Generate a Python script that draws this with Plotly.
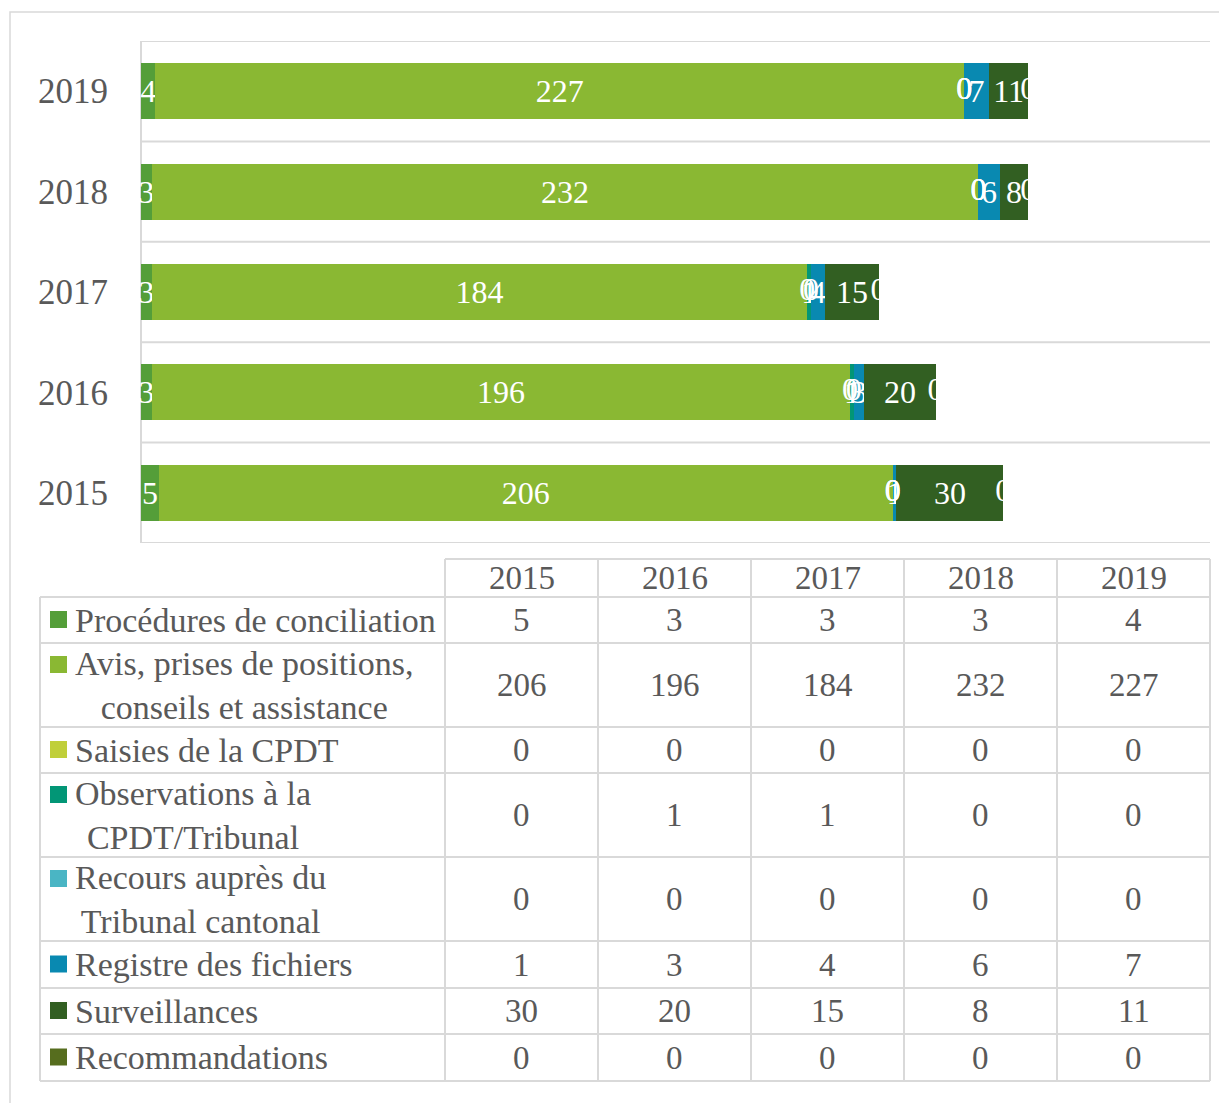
import plotly.graph_objects as go

# ---------------- data ----------------
years = ["2015", "2016", "2017", "2018", "2019"]
series_names = [
    "Procédures de conciliation",
    "Avis, prises de positions, conseils et assistance",
    "Saisies de la CPDT",
    "Observations à la CPDT/Tribunal",
    "Recours auprès du Tribunal cantonal",
    "Registre des fichiers",
    "Surveillances",
    "Recommandations",
]
table_labels = [
    "Procédures de conciliation",
    "Avis, prises de positions,<br>conseils et assistance",
    "Saisies de la CPDT",
    "Observations à la<br>CPDT/Tribunal",
    "Recours auprès du<br>Tribunal cantonal",
    "Registre des fichiers",
    "Surveillances",
    "Recommandations",
]
procedures = [5, 3, 3, 3, 4]
avis = [206, 196, 184, 232, 227]
saisies = [0, 0, 0, 0, 0]
observations = [0, 1, 1, 0, 0]
recours = [0, 0, 0, 0, 0]
registre = [1, 3, 4, 6, 7]
surveillances = [30, 20, 15, 8, 11]
recommandations = [0, 0, 0, 0, 0]
series_values = [procedures, avis, saisies, observations, recours,
                 registre, surveillances, recommandations]
colors = ["#549E39", "#8AB833", "#C0CF3A", "#029676",
          "#4AB5C4", "#0989B1", "#325F22", "#566D1E"]

# ---------------- layout geometry (reference pixels) ----------------
OFF = 8                      # page body margin
W, H = 1227 - OFF, 1103 - OFF
PL, PR, PT, PB = 141, 1210, 41, 543
FONT = "Liberation Serif"
GRAY = "#595959"
GRID = "#D9D9D9"


def px2x(px):
    return (px - PL) / (PR - PL)


def px2y(py):
    return (PB - py) / (PB - PT)


fig = go.Figure()
for name, vals, col in zip(series_names, series_values, colors):
    fig.add_trace(go.Bar(
        y=years, x=vals, name=name, orientation="h",
        marker=dict(color=col, line=dict(width=0)),
        text=[str(v) for v in vals],
        textposition="inside", insidetextanchor="middle",
        constraintext="none",
        textfont=dict(family=FONT, size=32, color="white"),
        cliponaxis=False,
    ))

# labels of zero-size segments (drawn at the segment position, like the original)
zx, zy = [], []
for j, yr in enumerate(years):
    cum = 0
    for vals in series_values:
        if vals[j] == 0:
            zx.append(cum)
            zy.append(yr)
        cum += vals[j]
fig.add_trace(go.Scatter(
    x=zx, y=zy, mode="text", text=["0"] * len(zx),
    textposition="middle center", cliponaxis=False, hoverinfo="skip",
    textfont=dict(family=FONT, size=32, color="white"), showlegend=False,
))

shapes = []
# outer frame
shapes.append(dict(type="rect", xref="paper", yref="paper",
                   x0=px2x(10), x1=px2x(1260), y0=px2y(12), y1=px2y(1140),
                   line=dict(color=GRID, width=1.5), layer="below"))
# category boundaries in the plot
for k in range(len(years) + 1):
    shapes.append(dict(type="line", xref="paper", yref="y",
                       x0=px2x(140), x1=1, y0=k - 0.5, y1=k - 0.5,
                       line=dict(color=GRID, width=2), layer="below"))
shapes.append(dict(type="line", xref="paper", yref="y",
                   x0=0, x1=0, y0=-0.5, y1=len(years) - 0.5,
                   line=dict(color=GRID, width=2), layer="below"))

# ---------------- data table ----------------
TL, TC0, TR = 40, 445, 1210
col_w = (TR - TC0) / len(years)
HT, HB = 559, 597
row_h = [46, 84, 46, 84, 84, 47, 46, 47]
row_edges = [HB]
for h in row_h:
    row_edges.append(row_edges[-1] + h)
TB = row_edges[-1]

shapes.append(dict(type="line", xref="paper", yref="paper",
                   x0=px2x(TC0), x1=px2x(TR), y0=px2y(HT), y1=px2y(HT),
                   line=dict(color=GRID, width=2)))
for i in range(len(years) + 1):
    xx = TC0 + i * col_w
    shapes.append(dict(type="line", xref="paper", yref="paper",
                       x0=px2x(xx), x1=px2x(xx), y0=px2y(HT), y1=px2y(TB),
                       line=dict(color=GRID, width=2)))
shapes.append(dict(type="line", xref="paper", yref="paper",
                   x0=px2x(TL), x1=px2x(TL), y0=px2y(HB), y1=px2y(TB),
                   line=dict(color=GRID, width=2)))
for ye in row_edges:
    shapes.append(dict(type="line", xref="paper", yref="paper",
                       x0=px2x(TL), x1=px2x(TR), y0=px2y(ye), y1=px2y(ye),
                       line=dict(color=GRID, width=2)))

annotations = []
for i, yr in enumerate(years):
    annotations.append(dict(xref="paper", yref="paper",
                            x=px2x(TC0 + (i + 0.5) * col_w), y=px2y((HT + HB) / 2),
                            text=yr, showarrow=False, xanchor="center", yanchor="middle",
                            font=dict(family=FONT, size=33, color=GRAY)))

LINE_H = 40
for r, (lab, vals, col) in enumerate(zip(table_labels, series_values, colors)):
    y0, y1 = row_edges[r], row_edges[r + 1]
    yc = (y0 + y1) / 2
    nlines = lab.count("<br>") + 1
    first_line_c = yc - (nlines - 1) * LINE_H / 2
    shapes.append(dict(type="rect", xref="paper", yref="paper",
                       x0=px2x(50), x1=px2x(67),
                       y0=px2y(first_line_c - 9), y1=px2y(first_line_c + 8),
                       fillcolor=col, line=dict(width=0)))
    annotations.append(dict(xref="paper", yref="paper", x=px2x(73), y=px2y(yc),
                            text=lab, showarrow=False, xanchor="left", yanchor="middle",
                            align="center",
                            font=dict(family=FONT, size=34, color=GRAY)))
    for i, v in enumerate(vals):
        annotations.append(dict(xref="paper", yref="paper",
                                x=px2x(TC0 + (i + 0.5) * col_w), y=px2y(yc),
                                text=str(v), showarrow=False,
                                xanchor="center", yanchor="middle",
                                font=dict(family=FONT, size=33, color=GRAY)))

fig.update_layout(
    width=W, height=H,
    margin=dict(l=PL - OFF, r=W - (PR - OFF), t=PT - OFF, b=H - (PB - OFF), pad=0),
    paper_bgcolor="white", plot_bgcolor="white",
    barmode="stack", bargap=0.443,
    showlegend=False,
    uniformtext=dict(minsize=32, mode="show"),
    xaxis=dict(range=[0, 300], visible=False, fixedrange=True),
    yaxis=dict(type="category", categoryorder="array", categoryarray=years,
               range=[-0.5, len(years) - 0.5], showgrid=False, zeroline=False,
               showline=False, ticks="", ticklabelstandoff=32,
               tickfont=dict(family=FONT, size=35, color=GRAY)),
    shapes=shapes, annotations=annotations,
)

fig.write_html("out.html")
